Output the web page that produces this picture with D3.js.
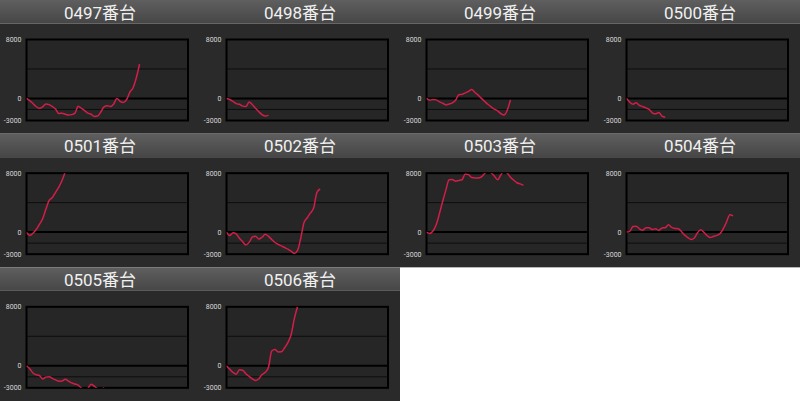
<!DOCTYPE html>
<html>
<head>
<meta charset="utf-8">
<script src="https://cdn.jsdelivr.net/npm/d3@7"></script>
<style>
    body { margin: 0; background: #fff; }
    svg { display: block; font-family: Roboto, "Noto Sans CJK JP", sans-serif; }
</style>
</head>
<body>
<div id="chart"></div>
<script>
// machine numbers, one panel each
const machines = ['0497', '0498', '0499', '0500', '0501', '0502', '0503', '0504', '0505', '0506'];

// y axis
const yTicks = [8000, 0, -3000];
const yGrid = [4000, -1500];

// one point every GAME_STEP games
const GAME_STEP = 200;
const GAME_MAX = 10000;

// coin difference per machine
const d0497 = [0, -300, -700, -1100, -1350, -1150, -750, -850, -1100, -1450, -2050, -2000, -2150, -2250, -2200, -2000,
    -1050, -1350, -1650, -2000, -2150, -2450, -2400, -1850, -1150, -1000, -1100, -750, 0, -400, -550, -150, 850, 1450,
    2800, 4650];
const d0498 = [0, -150, -400, -700, -800, -1050, -1100, -500, -850, -1350, -1800, -2200, -2400, -2300];
const d0499 = [0, -250, -150, -200, -480, -650, -880, -750, -600, -250, 500, 550, 750, 950, 1200, 800, 450, 0, -400,
    -800, -1150, -1450, -1700, -2050, -2250, -1600, -200];
const d0500 = [0, -500, -780, -600, -950, -1100, -1280, -1500, -1950, -2100, -1900, -2400, -2550];
const d0501 = [-50, -450, -150, 350, 1050, 1800, 3100, 4300, 4700, 5400, 6100, 7000, 8200];
const d0502 = [0, -480, -100, -250, -850, -1300, -1750, -1400, -700, -550, -950, -700, -300, -580, -1000, -1420, -1680,
    -1880, -2100, -2320, -2600, -2900, -2500, -800, 1300, 1950, 2600, 3300, 5400, 5850];
const d0503 = [0, -180, 150, 1000, 2500, 4150, 5700, 7100, 7150, 6900, 7000, 7100, 7900, 7800, 7400, 7350, 7350, 7500,
    7950, 8400, 8050, 7600, 7100, 7750, 8300, 8000, 7450, 7050, 6700, 6550, 6350];
const d0504 = [0, 100, 750, 800, 450, 250, 600, 600, 350, 450, 250, 550, 600, 980, 630, 480, 460, 80, -420, -750, -1000,
    -800, -80, 300, -50, -500, -750, -570, -450, -200, 500, 1400, 2350, 2200];
const d0505 = [0, -400, -980, -1220, -1320, -1800, -1550, -1480, -1720, -1920, -2100, -2080, -1850, -2080, -2330, -2480,
    -2620, -3050, -3350, -3080, -2500, -2780, -3100, -3350, -2950];
const d0506 = [0, -460, -900, -1150, -550, -620, -1080, -1450, -1780, -2020, -1760, -1200, -900, -200, 2000, 2200, 1880,
    1900, 2450, 3150, 4200, 6400, 8050];

const seriesList = [d0497, d0498, d0499, d0500, d0501, d0502, d0503, d0504, d0505, d0506];

/* * * * * * * * * * * * * *
 *        Panel grid         *
 * * * * * * * * * * * * * */

const width = 800;
const height = 401;
const cols = 4;
const panelW = 200;
const panelH = height / 3;
const headerH = 23.5;
const plot = { left: 26.5, right: 188, top: 39.5, bottom: 120.5 };

const svg = d3.select('#chart').append('svg').attr('width', width).attr('height', height);

svg.append('rect').attr('width', width).attr('height', height).attr('fill', '#fff');

const defs = svg.append('defs');
const grad = defs.append('linearGradient').attr('id', 'head').attr('x1', 0).attr('y1', 0).attr('x2', 0).attr('y2', 1);
grad.append('stop').attr('offset', '0%').attr('stop-color', '#5f5f5f');
grad.append('stop').attr('offset', '100%').attr('stop-color', '#464646');

const x = d3.scaleLinear().domain([0, GAME_MAX]).range([plot.left, plot.right]);
const y = d3.scaleLinear().domain([-3000, 8000]).range([plot.bottom, plot.top]);

const line = d3
    .line()
    .x((d, i) => x(i * GAME_STEP))
    .y((d) => y(d))
    .curve(d3.curveMonotoneX);

defs.append('clipPath')
    .attr('id', 'plotClip')
    .append('rect')
    .attr('x', plot.left)
    .attr('y', plot.top)
    .attr('width', plot.right - plot.left)
    .attr('height', plot.bottom - plot.top);

machines.forEach((name, i) => {
    const col = i % cols;
    const row = Math.floor(i / cols);
    const g = svg.append('g').attr('transform', `translate(${col * panelW}, ${row * panelH})`);

    // header + body
    g.append('rect').attr('width', panelW).attr('height', headerH).attr('fill', 'url(#head)');
    g.append('rect')
        .attr('y', headerH)
        .attr('width', panelW)
        .attr('height', panelH - headerH)
        .attr('fill', '#2a2a2a');

    g.append('text')
        .attr('x', panelW / 2)
        .attr('y', 18.5)
        .attr('text-anchor', 'middle')
        .attr('fill', '#f0f0f0')
        .attr('font-size', 17)
        .text(name + '番台');

    // plot area
    g.append('rect')
        .attr('x', plot.left)
        .attr('y', plot.top)
        .attr('width', plot.right - plot.left)
        .attr('height', plot.bottom - plot.top)
        .attr('fill', '#262626');

    g.selectAll('.grid')
        .data(yGrid)
        .enter()
        .append('line')
        .attr('x1', plot.left)
        .attr('x2', plot.right)
        .attr('y1', (d) => y(d))
        .attr('y2', (d) => y(d))
        .attr('stroke', '#0e0e0e')
        .attr('stroke-width', 1);

    g.append('line')
        .attr('x1', plot.left)
        .attr('x2', plot.right)
        .attr('y1', y(0))
        .attr('y2', y(0))
        .attr('stroke', '#000')
        .attr('stroke-width', 2);

    g.append('rect')
        .attr('x', plot.left)
        .attr('y', plot.top)
        .attr('width', plot.right - plot.left)
        .attr('height', plot.bottom - plot.top)
        .attr('fill', 'none')
        .attr('stroke', '#000')
        .attr('stroke-width', 2);

    g.selectAll('.tick')
        .data(yTicks)
        .enter()
        .append('text')
        .attr('x', plot.left - 5)
        .attr('y', (d) => y(d))
        .attr('dy', '0.35em')
        .attr('text-anchor', 'end')
        .attr('fill', '#d8d8d8')
        .attr('font-size', 7)
        .text((d) => d);

    g.append('path')
        .datum(seriesList[i])
        .attr('clip-path', 'url(#plotClip)')
        .attr('d', line)
        .attr('fill', 'none')
        .attr('stroke', '#d21e48')
        .attr('stroke-width', 1.5);
});
</script>
</body>
</html>
